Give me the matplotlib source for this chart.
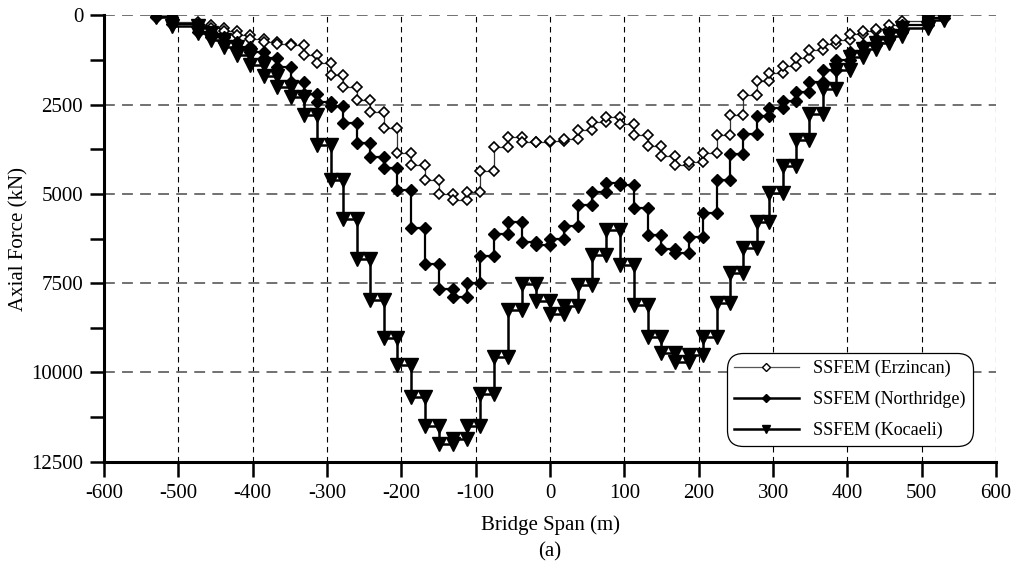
import matplotlib.pyplot as plt
from matplotlib.lines import Line2D
from matplotlib.ticker import MultipleLocator

# Узлы элементов вдоль пролёта (м): боковые пролёты и главный пролёт
node_x = [-530, -508, -474, -456, -439, -421, -403, -385, -367, -349,
          -331, -313, -295, -278, -260, -242, -224, -206,
          -187.3, -168.5, -149.8, -131.1, -112.4, -93.6, -74.9, -56.2,
          -37.5, -18.7, 0, 18.7, 37.5, 56.2, 74.9, 93.6, 112.4, 131.1,
          149.8, 168.5, 187.3,
          206, 224, 242, 260, 278, 295, 313, 331, 349, 367,
          385, 403, 421, 439, 456, 474, 508, 530]

# Осевое усилие в каждом элементе (кН)
erzincan = [40, 180, 260, 360, 450, 540, 650, 740, 800, 840,
            1110, 1340, 1670, 2000, 2370, 2700, 3160,
            3850, 4200, 4600, 5000, 5170, 4950, 4350, 3700, 3400, 3540,
            3550, 3530, 3450, 3200, 3000, 2850, 3050, 3350, 3650, 3950,
            4180, 4100,
            3850, 3350, 2790, 2230, 1830, 1620, 1430, 1200, 970, 800,
            680, 530, 450, 370, 260, 150, 50]
northridge = [40, 250, 480, 620, 760, 900, 1040, 1200, 1450, 1860,
              2200, 2440, 2550, 3020, 3580, 3960, 4280,
              4890, 5960, 6950, 7650, 7880, 7500, 6750, 6120, 5800, 6350,
              6430, 6250, 5900, 5300, 4950, 4700, 4750, 5400, 6150, 6550,
              6660, 6200,
              5540, 4610, 3870, 3330, 2830, 2600, 2400, 2150, 1860, 1540,
              1240, 1040, 820, 660, 480, 270, 70]
kocaeli = [50, 300, 500, 700, 900, 1120, 1400, 1700, 2000, 2280,
           2790, 3630, 4610, 5690, 6830, 7970, 9040,
           9800, 10700, 11500, 12000, 11850, 11500, 10600, 9560, 8250, 7520,
           8000, 8370, 8150, 7550, 6710, 6000, 6990, 8100, 9000, 9450,
           9720, 9500,
           9000, 8060, 7220, 6520, 5800, 4980, 4210, 3490, 2760, 2070,
           1540, 1180, 950, 780, 580, 360, 130]

labels = ['SSFEM (Erzincan)', 'SSFEM (Northridge)', 'SSFEM (Kocaeli)']


# Ступенчатая линия: значение элемента на обоих его узлах
def step_points(nodes, values):
    xs, ys = [], []
    for i, v in enumerate(values):
        xs += [nodes[i], nodes[i + 1]]
        ys += [v, v]
    return xs, ys


plt.rcParams['font.family'] = ['Liberation Serif', 'DejaVu Serif']
plt.rcParams['axes.unicode_minus'] = False

fig = plt.figure(figsize=(10.16, 5.72), dpi=100)
ax = fig.add_axes([0.1024, 0.1928, 0.8780, 0.7804])

styles = [
    dict(color='#333333', lw=0.9, marker='D', ms=5.6, mfc='white', mec='black', mew=1.2),
    dict(color='black', lw=1.6, marker='D', ms=5.8, mfc='black', mec='black'),
    dict(color='black', lw=1.8, marker='v', ms=9.5, mfc='black', mec='black'),
]

for values, st in zip([erzincan, northridge, kocaeli], styles):
    xs, ys = step_points(node_x, values)
    ax.plot(xs, ys, **st)

ax.set_xlim(-600, 600)
ax.set_ylim(12500, 0)
ax.xaxis.set_major_locator(MultipleLocator(100))
ax.yaxis.set_major_locator(MultipleLocator(2500))
ax.yaxis.set_minor_locator(MultipleLocator(1250))

ax.xaxis.grid(True, color='black', lw=0.8, ls=(0, (5, 4)))
ax.yaxis.grid(True, color='#666666', lw=1.3, ls=(0, (6, 4)))
ax.set_axisbelow(True)

for side in ['top', 'right']:
    ax.spines[side].set_visible(False)
for side in ['left', 'bottom']:
    ax.spines[side].set_linewidth(2.2)

ax.tick_params(axis='both', which='both', direction='out', width=1.8,
               length=10, labelsize=15, pad=5)
ax.tick_params(axis='x', length=11)

ax.set_xlabel('Bridge Span (m)', fontsize=15, labelpad=9)
ax.set_ylabel('Axial Force (kN)', fontsize=15, labelpad=2)

handles = [Line2D([], [], color='#555555', lw=0.9, marker='D', ms=4, mfc='white', mec='black', mew=1),
           Line2D([], [], color='black', lw=1.8, marker='D', ms=4, mfc='black'),
           Line2D([], [], color='black', lw=1.8, marker='v', ms=6, mfc='black')]
leg = ax.legend(handles, labels, loc='upper left', bbox_to_anchor=(0.7152, 0.3834),
                bbox_transform=fig.transFigure, borderaxespad=0, fontsize=13,
                handlelength=3.6, handletextpad=0.8, labelspacing=0.75,
                borderpad=0.4, fancybox=True, framealpha=1, edgecolor='black')
leg.get_frame().set_linewidth(0.9)
leg.get_frame().set_boxstyle('round', pad=0.0, rounding_size=0.9)

fig.text(0.5413, 0.036, '(a)', ha='center', va='center', fontsize=15)

fig.savefig('out.png', dpi=100)
